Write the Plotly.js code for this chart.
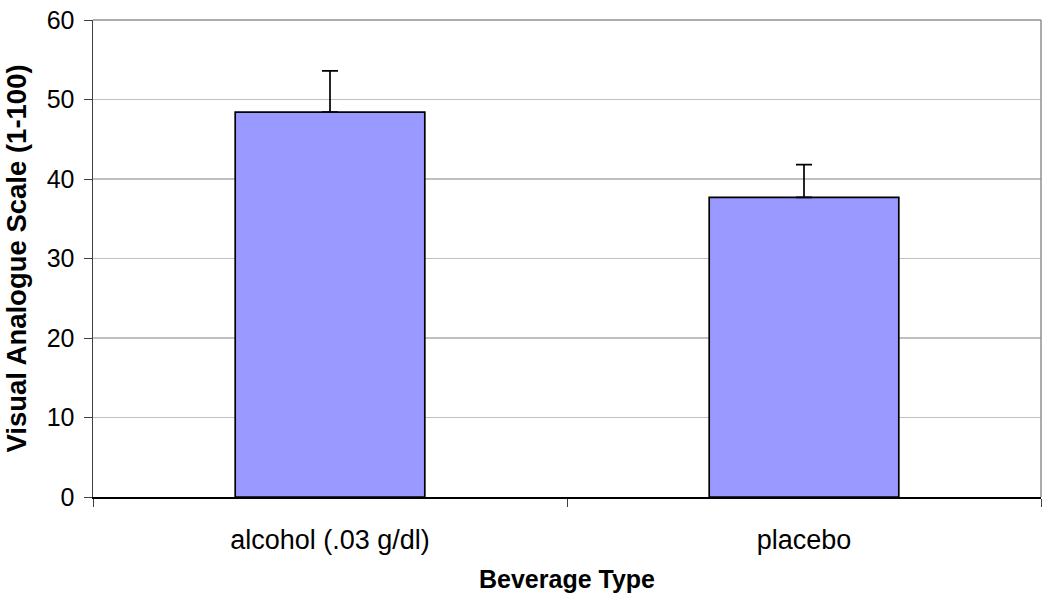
<!DOCTYPE html>
<html>
<head>
<meta charset="utf-8">
<script src="https://cdn.plot.ly/plotly-3.0.1.min.js"></script>
<style>html,body{margin:0;padding:0;background:#fff;}#chart{width:1050px;height:603px;}</style>
</head>
<body>
<div id="chart"></div>
<script>
const categories = ["alcohol (.03 g/dl)", "placebo"];
const means = [48.4, 37.7];
const errors = [5.2, 4.1];
const yTicks = [0, 10, 20, 30, 40, 50, 60];

const trace = {
  type: "bar",
  x: categories,
  y: means,
  marker: {color: "#9999FF", line: {color: "#000000", width: 1.7}},
  error_y: {type: "data", array: errors, symmetric: false, arrayminus: [0, 0], visible: true, color: "#000000", thickness: 1.7, width: 8},
  hoverinfo: "none"
};

const layout = {
  width: 1050, height: 603,
  margin: {l: 93, r: 9, t: 20, b: 106},
  paper_bgcolor: "#ffffff", plot_bgcolor: "#ffffff",
  bargap: 0.6,
  showlegend: false,
  font: {family: "Liberation Sans, Arial, sans-serif", color: "#000000"},
  xaxis: {
    type: "category",
    tickson: "boundaries",
    ticks: "outside", ticklen: 8, tickcolor: "#404040", tickwidth: 1,
    showline: true, linecolor: "#000000", linewidth: 1.5,
    showgrid: false,
    tickfont: {size: 27},
    ticklabelstandoff: 18,
    title: {text: "<b>Beverage Type</b>", font: {size: 25}, standoff: 16},
    automargin: false
  },
  yaxis: {
    range: [0, 60],
    tickvals: yTicks,
    ticks: "outside", ticklen: 8, tickcolor: "#404040", tickwidth: 1,
    showline: true, linecolor: "#404040", linewidth: 1.5,
    showgrid: true, gridcolor: "#c0c0c0", gridwidth: 1.2,
    zeroline: false,
    tickfont: {size: 25},
    ticklabelstandoff: 4,
    title: {text: "<b>Visual Analogue Scale (1-100)</b>", font: {size: 27.5}, standoff: 12},
    automargin: false
  },
  shapes: [
    {type: "line", xref: "paper", yref: "paper", x0: 0, x1: 1, y0: 1, y1: 1, line: {color: "#909090", width: 1.5}},
    {type: "line", xref: "paper", yref: "paper", x0: 1, x1: 1, y0: 0, y1: 1, line: {color: "#909090", width: 1.5}}
  ]
};

Plotly.newPlot("chart", [trace], layout, {staticPlot: true, displayModeBar: false});
</script>
</body>
</html>
